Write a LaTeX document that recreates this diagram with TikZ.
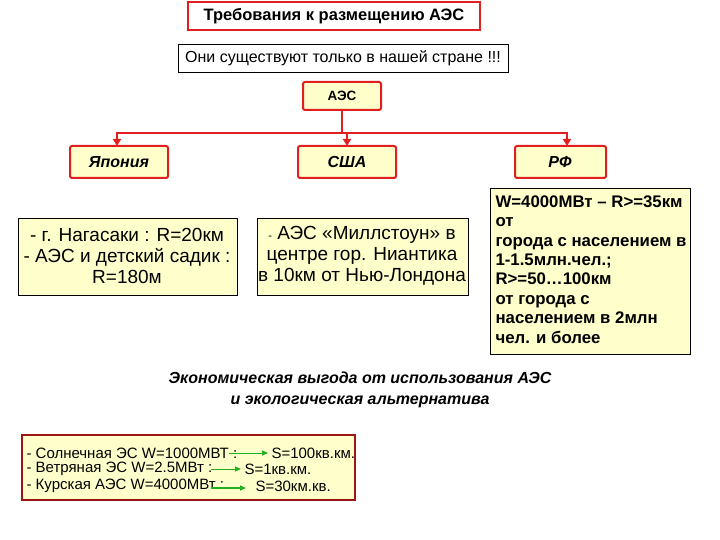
\documentclass[tikz,border=0pt]{standalone}
\usepackage{fontspec}
\setmainfont{Liberation Sans}
\usetikzlibrary{arrows.meta}
\definecolor{cream}{HTML}{FFFFCC}
\definecolor{rd}{HTML}{E02020}
\definecolor{gr}{HTML}{20B020}
\begin{document}
\begin{tikzpicture}[x=1pt,y=-1pt,
 redbox/.style={draw=rd,line width=2pt,fill=cream,rounded corners=2pt},
 plainbox/.style={draw=black,line width=0.8pt,fill=cream},
 small/.style={font=\fontsize{15}{17}\selectfont},
 lbl/.style={font=\fontsize{16}{18}\selectfont\bfseries\itshape},
 conn/.style={draw=rd,line width=2pt,-{Triangle[length=7pt,width=8pt]}}]
\useasboundingbox (0,0) rectangle (720,540);
\draw[draw=rd,line width=1.5pt,fill=white] (188,2) rectangle (480,30);
\node[font=\fontsize{16.5}{18}\selectfont\bfseries] (t) at (334,16) {Требования к размещению АЭС};
\draw[line width=0.8pt,fill=white] (178,44) rectangle (508,72);
\node[font=\fontsize{16}{18}\selectfont] (o) at (343,58) {Они существуют только в нашей стране !!!};
\draw[redbox] (303,82) rectangle (381,110);
\node[font=\fontsize{13.5}{15}\selectfont\bfseries] (a) at (342,96) {АЭС};
\draw[redbox] (70,146) rectangle (168,178);
\node[lbl] (j) at (119,162) {Япония};
\draw[redbox] (298,146) rectangle (396,178);
\node[lbl] (u) at (347,162) {США};
\draw[redbox] (515,146) rectangle (606,178);
\node[lbl] (r) at (560,162) {РФ};
\coordinate (h) at (342,133);
\draw[rd,line width=2pt] (342,110) -- (h);
\draw[rd,line width=2pt] (117,133) -- (567,133);
\draw[conn] (117,132) -- (117,146);
\draw[conn] (347,132) -- (347,146);
\draw[conn] (567,132) -- (567,146);
\draw[plainbox] (18,218) rectangle (237,295);
\node[align=center,font=\fontsize{19}{21}\selectfont] (jd) at (127,256) {- г. Нагасаки : R=20км\\- АЭС и детский садик :\\R=180м};
\draw[plainbox] (257,218) rectangle (468,295);
\node[align=center,font=\fontsize{19}{21}\selectfont] (ud) at (362,256) {{\fontsize{11}{12}\selectfont -} АЭС «Миллстоун» в\\центре гор. Ниантика\\в 10км от Нью-Лондона};
\draw[plainbox] (490,188) rectangle (690,354);
\node[align=left,anchor=north west,font=\fontsize{16.8}{19.4}\selectfont\bfseries] (rd1) at (492,192) {W=4000МВт – R>=35км\\от\\города с населением в\\1-1.5млн.чел.;\\R>=50…100км\\от  города с\\населением в 2млн\\чел. и более};
\node[align=center,font=\fontsize{16}{21}\selectfont\bfseries\itshape] (e) at (360,390) {Экономическая выгода от использования АЭС\\и экологическая альтернатива};
\draw[draw=rd!70!black,line width=1.5pt,fill=cream] (22,435) rectangle (355,500);
\node[anchor=west,small] (s1) at (23,453) {- Солнечная ЭС W=1000МВТ :};
\node[anchor=west,small] (s2) at (23,469) {- Ветряная ЭС W=2.5МВт :};
\node[anchor=west,small] (s3) at (23,486) {- Курская АЭС W=4000МВт :};
\node[anchor=west,small] (r1) at (268,453) {S=100кв.км.};
\node[anchor=west,small] (r2) at (241,469) {S=1кв.км.};
\node[anchor=west,small] (r3) at (252,486) {S=30км.кв.};
\draw[gr,line width=1pt,-{Triangle[length=6pt,width=5pt]}] (229,453) -- (r1.west);
\draw[gr,line width=1pt,-{Triangle[length=6pt,width=5pt]}] (211,469) -- (r2.west);
\draw[gr,line width=1.8pt,-{Triangle[length=6pt,width=5pt]}] (212,488) -- (246,488);
\end{tikzpicture}
\end{document}
